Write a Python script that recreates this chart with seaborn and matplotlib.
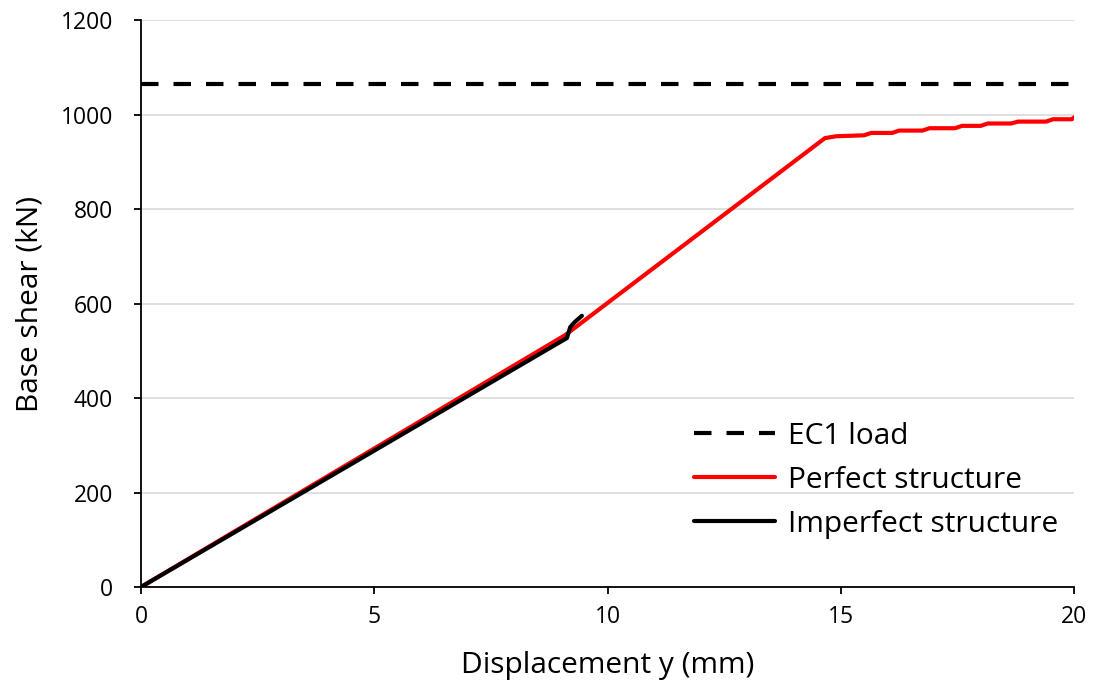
import matplotlib
matplotlib.use("Agg")
import matplotlib.pyplot as plt
import seaborn as sns
import pandas as pd

# Pushover curves: displacement (mm) vs base shear (kN)
perfect_disp = [0, 9.09, 14.66, 14.9, 15.5, 15.65, 16.1, 16.25, 16.75, 16.9,
                17.45, 17.6, 18.0, 18.15, 18.65, 18.8, 19.4, 19.55, 19.95, 20.0]
perfect_shear = [0, 533, 950, 954, 956, 961, 961, 966, 966, 971,
                 971, 976, 976, 981, 981, 985, 985, 990, 990, 994]

imperfect_disp = [0, 9.13, 9.2, 9.3, 9.45]
imperfect_shear = [0, 527, 550, 561, 574]

ec1_load = 1065
x_range = [0, 20]

series_names = ["EC1 load", "Perfect structure", "Imperfect structure"]

frames = [
    pd.DataFrame({"disp": x_range, "shear": [ec1_load, ec1_load], "series": series_names[0]}),
    pd.DataFrame({"disp": perfect_disp, "shear": perfect_shear, "series": series_names[1]}),
    pd.DataFrame({"disp": imperfect_disp, "shear": imperfect_shear, "series": series_names[2]}),
]
df = pd.concat(frames, ignore_index=True)

sns.set_style("white")
plt.rcParams["font.family"] = ["Open Sans", "DejaVu Sans"]
plt.rcParams["text.color"] = "black"
plt.rcParams["axes.labelcolor"] = "black"

fig = plt.figure(figsize=(10.99, 6.88), dpi=100)
ax = fig.add_axes([0.1283, 0.1468, 0.849, 0.8241])

palette = {series_names[0]: "black", series_names[1]: "#ff0000", series_names[2]: "black"}
sns.lineplot(data=df, x="disp", y="shear", hue="series", style="series",
             palette=palette, hue_order=series_names, style_order=series_names,
             dashes={series_names[0]: (4.2, 3.6), series_names[1]: "", series_names[2]: ""},
             linewidth=3.0, sort=False, estimator=None, ax=ax, legend=True)

ax.set_xlim(0, 20)
ax.set_ylim(0, 1200)
ax.set_xticks([0, 5, 10, 15, 20])
ax.set_yticks(range(0, 1201, 200))
ax.yaxis.grid(True, color="#d9d9d9", linewidth=1.2)
ax.xaxis.grid(False)
ax.set_axisbelow(True)

for side in ["top", "right"]:
    ax.spines[side].set_visible(False)
for side in ["left", "bottom"]:
    ax.spines[side].set_color("black")
    ax.spines[side].set_linewidth(1.3)

ax.tick_params(axis="both", which="major", direction="out", length=5, width=1.3,
               color="black", labelsize=16.5, labelcolor="black", left=True, bottom=True)
ax.tick_params(axis="y", pad=15)
ax.tick_params(axis="x", pad=8)

ax.set_xlabel("Displacement y (mm)", fontsize=21.5, labelpad=16)
ax.set_ylabel("Base shear (kN)", fontsize=21.5, labelpad=12)

leg = ax.legend(loc="lower right", bbox_to_anchor=(1.012, 0.038), frameon=False,
                fontsize=21.5, handlelength=2.7, handletextpad=0.45, labelspacing=0.5)
for line in leg.get_lines():
    line.set_linewidth(3.0)

fig.savefig("out.png", dpi=100)
